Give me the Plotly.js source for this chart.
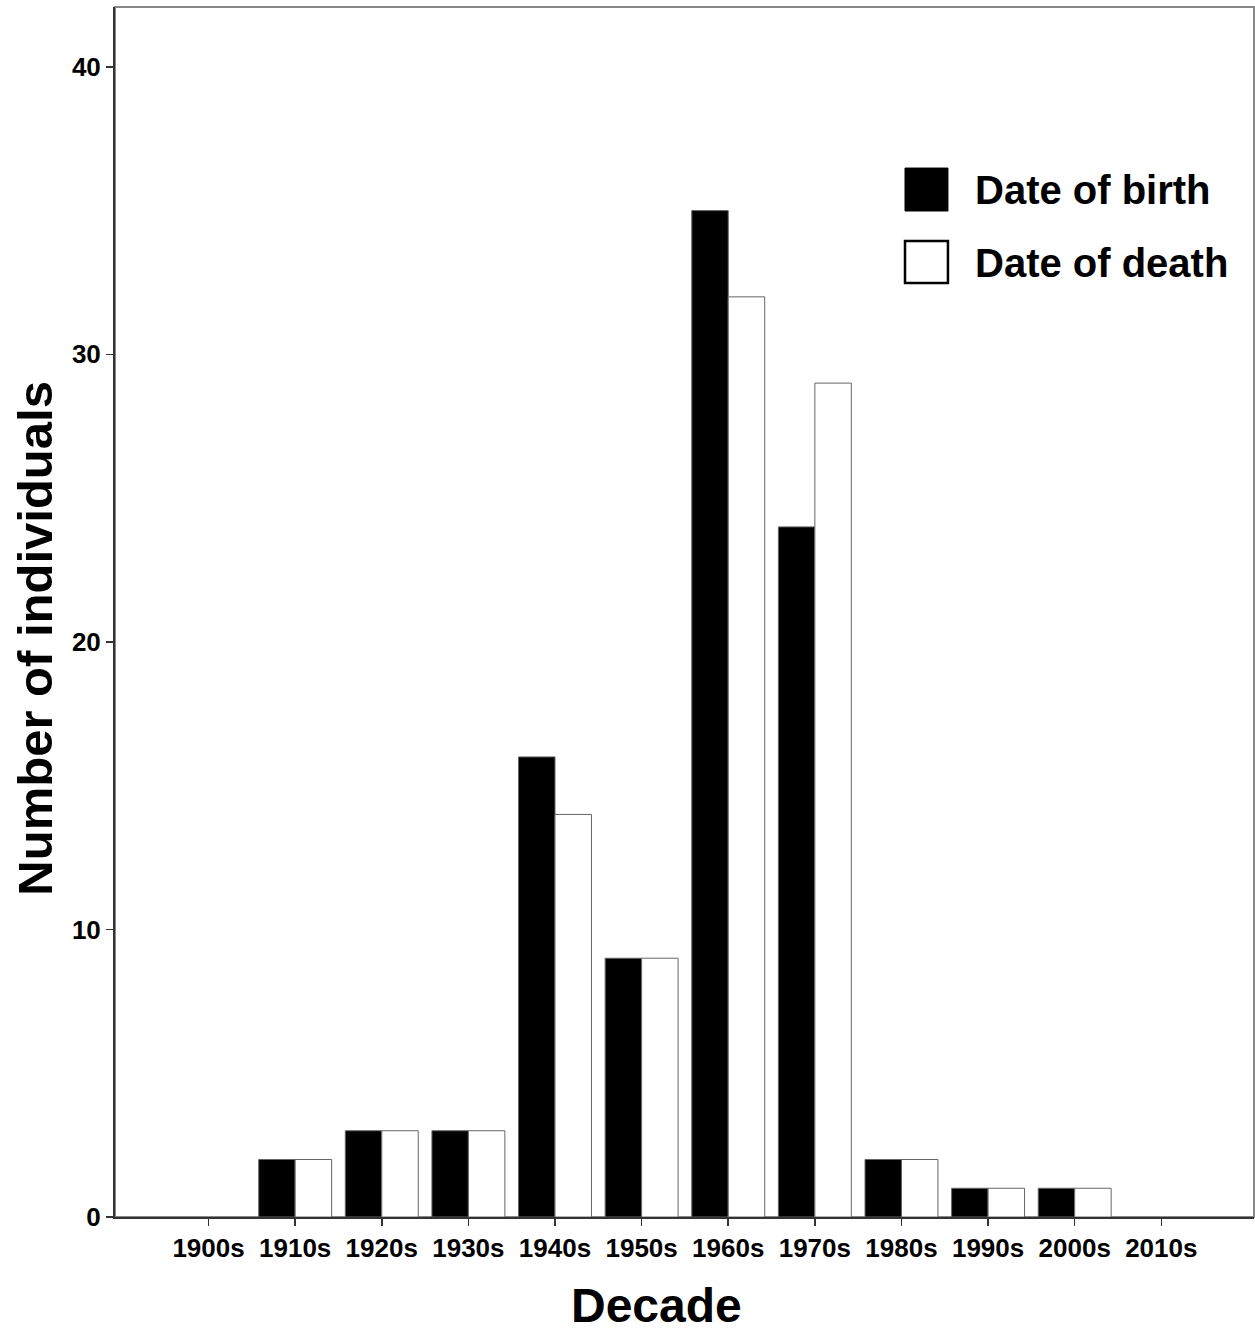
<!DOCTYPE html>
<html>
<head>
<meta charset="utf-8">
<script src="https://cdn.plot.ly/plotly-3.0.1.min.js"></script>
<style>html,body{margin:0;padding:0;background:#fff;}</style>
</head>
<body>
<div id="chart" style="width:1255px;height:1337px;"></div>
<script>
const decades = ['1900s','1910s','1920s','1930s','1940s','1950s','1960s','1970s','1980s','1990s','2000s','2010s'];
const birthCounts = [0, 2, 3, 3, 16, 9, 35, 24, 2, 1, 1, 0];
const deathCounts = [0, 2, 3, 3, 14, 9, 32, 29, 2, 1, 1, 0];
const seriesNames = ['Date of birth', 'Date of death'];
const yTicks = [0, 10, 20, 30, 40];
const xTitle = 'Decade';
const yTitle = 'Number of individuals';

const FONT = 'Liberation Sans, Arial, Helvetica, sans-serif';
const outlineWidths = vals => vals.map(v => v > 0 ? 1 : 0);

const traces = [
  {type:'bar', x:decades, y:birthCounts, name:seriesNames[0], showlegend:false,
   marker:{color:'#000000', line:{color:'#666666', width:outlineWidths(birthCounts)}}},
  {type:'bar', x:decades, y:deathCounts, name:seriesNames[1], showlegend:false,
   marker:{color:'#ffffff', line:{color:'#666666', width:outlineWidths(deathCounts)}}}
];

const layout = {
  width:1255, height:1337,
  margin:{l:115, r:1, t:7, b:120, pad:0},
  paper_bgcolor:'#fff', plot_bgcolor:'#fff',
  barmode:'group', bargap:0.158, bargroupgap:0,
  showlegend:false,
  font:{family:FONT, color:'#000'},
  xaxis:{type:'category', range:[-1.08, 12.07], showgrid:false, zeroline:false,
    showline:true, linecolor:'#333', linewidth:2,
    ticks:'outside', ticklen:7, tickwidth:1.5, tickcolor:'#333',
    tickfont:{family:FONT, size:26, weight:'bold', color:'#000'}},
  yaxis:{range:[0, 42.08], tickvals:yTicks, showgrid:false, zeroline:false,
    showline:true, linecolor:'#333', linewidth:2,
    ticks:'outside', ticklen:7, tickwidth:1.5, tickcolor:'#333',
    tickfont:{family:FONT, size:26, weight:'bold', color:'#000'}},
  shapes:[
    {type:'rect', xref:'paper', yref:'paper', x0:0, x1:1, y0:0, y1:1,
     line:{color:'#888', width:2}, layer:'below'},
    {type:'rect', xref:'paper', yref:'paper', x0:0.6936, x1:0.7313, y0:0.8314, y1:0.8669,
     fillcolor:'#000', line:{color:'#000', width:1}},
    {type:'rect', xref:'paper', yref:'paper', x0:0.6936, x1:0.7313, y0:0.7719, y1:0.8066,
     fillcolor:'#fff', line:{color:'#000', width:2.5}}
  ],
  annotations:[
    {xref:'paper', yref:'paper', x:0.7535, y:0.8488, xanchor:'left', yanchor:'middle',
     text:seriesNames[0], showarrow:false, font:{family:FONT, size:40, weight:'bold', color:'#000'}},
    {xref:'paper', yref:'paper', x:0.7535, y:0.7884, xanchor:'left', yanchor:'middle',
     text:seriesNames[1], showarrow:false, font:{family:FONT, size:40, weight:'bold', color:'#000'}},
    {xref:'paper', yref:'paper', x:0.475, y:-0.0735, xanchor:'center', yanchor:'middle',
     text:xTitle, showarrow:false, font:{family:FONT, size:48, weight:'bold', color:'#000'}},
    {xref:'paper', yref:'paper', x:-0.0702, y:0.478, xanchor:'center', yanchor:'middle',
     text:yTitle, textangle:-90, showarrow:false, font:{family:FONT, size:49, weight:'bold', color:'#000'}}
  ]
};

Plotly.newPlot('chart', traces, layout, {displayModeBar:false, staticPlot:true});
</script>
</body>
</html>
